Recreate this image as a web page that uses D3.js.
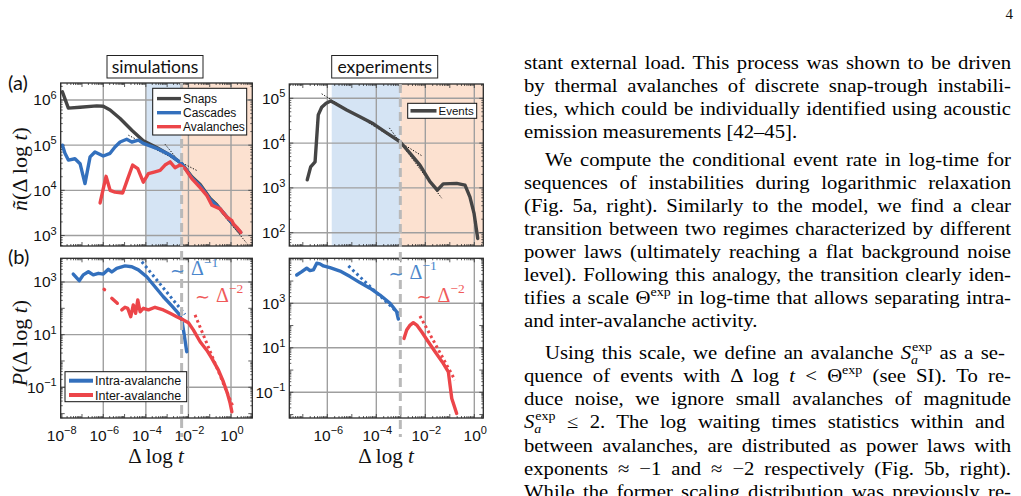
<!DOCTYPE html>
<html><head><meta charset="utf-8">
<script src="https://cdn.jsdelivr.net/npm/d3@7"></script>
<style>body{margin:0;background:#fff}svg{display:block}</style>
</head><body>
<svg id="c" width="1021" height="496"></svg>
<script>
// ---------- DATA (values stored as log10 exponents [log10 Δlogt, log10 value]) ----------
const simSnaps = [[-7.92,6.18],[-7.64,5.82],[-7.09,5.84],[-6.31,5.87],[-6.0,5.86],[-5.68,5.78],[-5.21,5.59],[-4.66,5.33],[-4.12,5.10],[-3.49,4.95],[-2.86,4.78],[-2.31,4.59],[-1.84,4.30],[-1.45,4.13],[-0.98,3.82],[-0.67,3.68],[0.0,3.30],[0.42,3.07]];
const simCascades = [[-7.92,5.0],[-7.80,4.82],[-7.64,4.67],[-7.33,4.70],[-7.09,4.59],[-6.86,4.15],[-6.62,4.74],[-6.39,4.85],[-6.0,4.76],[-5.68,4.82],[-5.45,4.96],[-5.21,5.07],[-4.90,5.13],[-4.66,5.07],[-4.35,5.11],[-4.12,5.04],[-3.49,4.93],[-2.86,4.78],[-2.31,4.59],[-1.84,4.28],[-1.45,4.10],[-0.98,3.80],[-0.51,3.59],[-0.04,3.33],[0.46,3.07]];
const simAvalanches = [[-6.15,3.72],[-5.87,4.31],[-5.68,4.0],[-5.45,3.96],[-5.09,3.94],[-4.85,4.26],[-4.62,4.56],[-4.38,4.48],[-4.12,4.18],[-3.88,4.37],[-3.57,4.41],[-3.33,4.44],[-3.10,4.56],[-2.86,4.63],[-2.63,4.50],[-2.40,4.56],[-2.16,4.48],[-1.84,4.26],[-1.45,4.06],[-1.14,3.89],[-0.90,3.67],[-0.51,3.59],[-0.20,3.41],[0.04,3.33],[0.12,3.25],[0.27,3.18],[0.46,3.07]];
const simFits = [[[-4.82,5.22],[-1.61,4.44]],[[-3.10,5.02],[0.74,2.83]]];
const simTheta = -2.32, simBlueStart = -4.0;

const expEvents = [[-6.82,3.18],[-6.68,3.47],[-6.50,3.58],[-6.37,4.63],[-6.23,4.80],[-6.05,4.89],[-5.86,4.94],[-5.69,4.89],[-5.21,4.74],[-4.67,4.59],[-4.12,4.43],[-3.58,4.23],[-3.03,4.03],[-2.62,3.77],[-2.22,3.51],[-1.81,3.14],[-1.51,2.95],[-1.27,3.09],[-0.72,3.10],[-0.38,3.06],[-0.18,2.80],[-0.01,2.43],[0.14,1.87]];
const expFits = [[[-6.23,5.10],[-2.15,3.72]],[[-3.47,4.34],[-1.33,2.77]]];
const expTheta = -3.02, expBlueStart = -5.82;

const simIntra = [[-7.41,3.30],[-7.13,3.05],[-6.94,3.27],[-6.70,3.39],[-6.47,3.27],[-6.23,3.33],[-6.0,3.30],[-5.76,3.48],[-5.60,3.38],[-5.37,3.52],[-4.98,3.61],[-4.66,3.58],[-4.35,3.46],[-3.96,3.20],[-3.57,2.82],[-3.18,2.44],[-2.78,2.09],[-2.47,1.81],[-2.31,1.56],[-2.21,1.05],[-2.08,0.35]];
const simInter = [[-5.96,2.72],[-5.94,2.71],null,[-5.60,2.38],[-5.34,2.19],null,[-5.13,1.94],[-4.98,2.04],[-4.85,2.0],[-4.71,1.68],[-4.59,2.13],[-4.48,1.81],[-4.38,2.32],[-4.27,1.87],[-4.12,2.0],[-3.88,1.94],[-3.57,2.04],[-3.18,1.94],[-2.86,1.81],[-2.55,1.68],[-2.24,1.56],[-2.0,1.45],[-1.77,1.18],[-1.45,0.73],[-1.14,0.41],[-0.90,0.10],[-0.59,-0.35],[-0.36,-0.79],[-0.17,-1.23],[-0.04,-1.61],[0.04,-1.93]];
const simIntraFit = [[-4.19,3.77],[-2.16,1.77]];
const simInterFit = [[-1.69,1.75],[0.08,-1.71]];

const expIntra = [[-7.25,4.27],[-7.04,4.42],[-6.84,4.58],[-6.71,4.47],[-6.57,4.50],[-6.43,4.80],[-6.30,4.77],[-6.16,4.68],[-5.89,4.60],[-5.48,4.45],[-5.07,4.20],[-4.67,3.93],[-4.26,3.68],[-3.85,3.37],[-3.44,3.0],[-3.17,2.62],[-3.10,2.29]];
const expInter = [[-2.87,1.42],[-2.76,1.80],[-2.62,2.02],[-2.49,2.13],[-2.35,2.02],[-2.15,1.72],[-1.88,1.27],[-1.60,0.82],[-1.27,0.30],[-1.06,-0.08],[-1.0,-0.60],[-0.92,-1.28],[-0.83,-1.58],[-0.72,-1.95]];
const expIntraFit = [[-5.14,4.68],[-3.10,2.55]];
const expInterFit = [[-2.22,2.43],[-0.79,-0.45]];

const legendSim = ["Snaps","Cascades","Avalanches"];
const legendExp = ["Events"];
const legendB = ["Intra-avalanche","Inter-avalanche"];
const xTicksSim = [-8,-6,-4,-2,0];
const xTicksExp = [-6,-4,-2,0];

const bodyLines = [
 {y:64, s:["stant external load. This process was shown to be driven"]},
 {y:87, s:["by thermal avalanches of discrete snap-trough instabili-"]},
 {y:110, s:["ties, which could be individually identified using acoustic"]},
 {y:133, s:["emission measurements [42–45]."], nj:1},
 {y:161, s:["We compute the conditional event rate in log-time for"], ind:1},
 {y:184, s:["sequences of instabilities during logarithmic relaxation"]},
 {y:207, s:["(Fig. 5a, right). Similarly to the model, we find a clear"]},
 {y:230, s:["transition between two regimes characterized by different"]},
 {y:253, s:["power laws (ultimately reaching a flat background noise"]},
 {y:276, s:["level). Following this analogy, the transition clearly iden-"]},
 {y:299, s:["tifies a scale Θ",{t:"exp",sup:1}," in log-time that allows separating intra-"]},
 {y:322, s:["and inter-avalanche activity."], nj:1},
 {y:354, s:["Using this scale, we define an avalanche ",{t:"S",i:1},{t:"a",sub:1,i:1},{t:"exp",sup:1,dx:-5.5}," as a se-"], ind:1},
 {y:377, s:["quence of events with Δ log ",{t:"t",i:1}," < Θ",{t:"exp",sup:1}," (see SI). To re-"]},
 {y:400, s:["duce noise, we ignore small avalanches of magnitude"]},
 {y:423, s:[{t:"S",i:1},{t:"a",sub:1,i:1},{t:"exp",sup:1,dx:-5.5}," ≤ 2. The log waiting times statistics within and"]},
 {y:447, s:["between avalanches, are distributed as power laws with"]},
 {y:470, s:["exponents ≈ −1 and ≈ −2 respectively (Fig. 5b, right)."]},
 {y:493, s:["While the former scaling distribution was previously re-"]}
];

// ---------- DRAW ----------
const svg = d3.select("#c");
const C = {gray:"#454545", blue:"#3370bd", red:"#ec4549", blueTxt:"#4a86cc", redTxt:"#f05a5a",
  shadeB:"#d5e4f4", shadeO:"#fce1d0", grid:"#9f9f9f", dash:"#b9b9b9"};
const SANS = "'Liberation Sans', Arial, sans-serif";
const SERIF = "'Liberation Serif', 'Times New Roman', serif";
const CAL = "Lato, 'Open Sans', sans-serif";

function rich(t, segs, supSize, subSize){
  let shift = 0;
  segs.forEach(s=>{
    if (typeof s === "string") s = {t:s};
    const target = s.sup ? -0.42*t.attr("data-fs") : s.sub ? 0.28*t.attr("data-fs") : 0;
    const ts = t.append("tspan").text(s.t).attr("dy", (target-shift).toFixed(2));
    shift = target;
    if (s.sup) ts.attr("font-size", supSize);
    if (s.sub) ts.attr("font-size", subSize);
    if (s.i) ts.attr("font-style","italic");
    if (s.dx) ts.attr("dx", s.dx);
  });
}
function sText(g, x, y, fs, fam, anchor){
  return g.append("text").attr("x",x).attr("y",y).attr("font-size",fs).attr("data-fs",fs)
    .attr("font-family",fam).attr("text-anchor",anchor||"start").attr("fill","#111");
}

let clipN = 0;
function panel(p){
  const g = svg.append("g");
  const x = d3.scaleLog().domain([10**p.xd[0],10**p.xd[1]]).range([p.l,p.r]);
  const y = d3.scaleLog().domain([10**p.yd[0],10**p.yd[1]]).range([p.b,p.t]);
  const id = "clip"+(clipN++);
  svg.append("clipPath").attr("id",id).append("rect").attr("x",p.l).attr("y",p.t).attr("width",p.r-p.l).attr("height",p.b-p.t);
  if (p.shade){
    g.append("rect").attr("x",x(10**p.shade[0])).attr("y",p.t).attr("width",x(10**p.shade[1])-x(10**p.shade[0])).attr("height",p.b-p.t).attr("fill",C.shadeB);
    g.append("rect").attr("x",x(10**p.shade[1])).attr("y",p.t).attr("width",p.r-x(10**p.shade[1])).attr("height",p.b-p.t).attr("fill",C.shadeO);
  }
  p.gx.forEach(e=>g.append("line").attr("x1",x(10**e)).attr("x2",x(10**e)).attr("y1",p.t).attr("y2",p.b).attr("stroke",C.grid).attr("stroke-width",1.4));
  p.gy.forEach(e=>g.append("line").attr("y1",y(10**e)).attr("y2",y(10**e)).attr("x1",p.l).attr("x2",p.r).attr("stroke",C.grid).attr("stroke-width",1.4));
  const tk = g.append("g").attr("stroke","#333").attr("stroke-width",0.8);
  for (let e=Math.floor(p.xd[0]); e<=Math.ceil(p.xd[1]); e++){
    for (let m=1;m<10;m++){
      const v = m*10**e; if (v<10**p.xd[0]||v>10**p.xd[1]) continue;
      const L = m===1?4:2;
      tk.append("line").attr("x1",x(v)).attr("x2",x(v)).attr("y1",p.b).attr("y2",p.b-L);
      tk.append("line").attr("x1",x(v)).attr("x2",x(v)).attr("y1",p.t).attr("y2",p.t+L);
    }
  }
  for (let e=Math.floor(p.yd[0]); e<=Math.ceil(p.yd[1]); e++){
    for (let m=1;m<10;m++){
      const v = m*10**e; if (v<10**p.yd[0]||v>10**p.yd[1]) continue;
      const L = m===1?4:2;
      tk.append("line").attr("y1",y(v)).attr("y2",y(v)).attr("x1",p.l).attr("x2",p.l+L);
      tk.append("line").attr("y1",y(v)).attr("y2",y(v)).attr("x1",p.r).attr("x2",p.r-L);
    }
  }
  const line = d3.line().defined(d=>d!==null).x(d=>x(10**d[0])).y(d=>y(10**d[1]));
  const cg = g.append("g").attr("clip-path",`url(#${id})`);
  (p.fits||[]).forEach(f=>cg.append("path").attr("d",line(f.d)).attr("fill","none").attr("stroke",f.c)
      .attr("stroke-width",f.w).attr("stroke-dasharray",f.da));
  p.series.forEach(s=>cg.append("path").attr("d",line(s.d)).attr("fill","none").attr("stroke",s.c)
      .attr("stroke-width",3.4).attr("stroke-linejoin","round").attr("stroke-linecap","round"));
  g.append("rect").attr("x",p.l).attr("y",p.t).attr("width",p.r-p.l).attr("height",p.b-p.t)
    .attr("fill","none").attr("stroke","#2a2a2a").attr("stroke-width",1.3);
  p.yl.forEach(e=>{
    const t = sText(g, p.l-4, y(10**e)+5.5, 15.5, SANS, "end");
    rich(t, ["10",{t:String(e).replace("-","−"),sup:1}], 11);
  });
  if (p.xl) p.xl.forEach(e=>{
    const t = sText(g, x(10**e)+1, 441, 15.5, SANS, "middle");
    rich(t, ["10",{t:String(e).replace("-","−"),sup:1}], 11);
  });
  return {x,y,g};
}

const A1 = panel({l:60.7,r:252.3,t:83,b:246, xd:[-8,1], yd:[2.768,6.376], shade:[simBlueStart,simTheta],
  gx:[-6,-4,-2,0], gy:[3,4,5,6], yl:[3,4,5,6],
  fits: simFits.map(d=>({d, c:"#111", w:1, da:"1.3,1.6"})),
  series:[{d:simSnaps,c:C.gray},{d:simCascades,c:C.blue},{d:simAvalanches,c:C.red}]});
const A2 = panel({l:289.3,r:483.3,t:84,b:246, xd:[-7.552,0.367], yd:[1.703,5.319], shade:[expBlueStart,expTheta],
  gx:[-6,-4,-2,0], gy:[2,3,4,5], yl:[2,3,4,5],
  fits: expFits.map(d=>({d, c:"#111", w:1, da:"1.3,1.6"})),
  series:[{d:expEvents,c:C.gray}]});
const B1 = panel({l:60.7,r:252.3,t:258.3,b:418, xd:[-8,1], yd:[-2.166,3.9],
  gx:[-6,-4,-2,0], gy:[-1,1,3], yl:[-1,1,3], xl:xTicksSim,
  fits:[{d:simIntraFit,c:C.blue,w:3,da:"2.6,3"},{d:simInterFit,c:C.red,w:3,da:"2.6,3"}],
  series:[{d:simIntra,c:C.blue},{d:simInter,c:C.red}]});
const B2 = panel({l:289.3,r:483.3,t:258.3,b:418, xd:[-7.552,0.367], yd:[-2.155,5.022],
  gx:[-6,-4,-2,0], gy:[-1,1,3], yl:[-1,1,3], xl:xTicksExp,
  fits:[{d:expIntraFit,c:C.blue,w:3,da:"2.6,3"},{d:expInterFit,c:C.red,w:3,da:"2.6,3"}],
  series:[{d:expIntra,c:C.blue},{d:expInter,c:C.red}]});

[[A1,simTheta,83,437],[A2,expTheta,84,437]].forEach(([P,th,y1,y2])=>{
  svg.append("line").attr("x1",P.x(10**th)).attr("x2",P.x(10**th)).attr("y1",y1).attr("y2",y2)
    .attr("stroke",C.dash).attr("stroke-width",3).attr("stroke-dasharray","9,5");
});

function legend(x0,y0,w,h,items,cols,fs,lx1,lx2,ys,lw){
  const g = svg.append("g");
  g.append("rect").attr("x",x0).attr("y",y0).attr("width",w).attr("height",h).attr("fill","#fff").attr("stroke","#111").attr("stroke-width",1);
  items.forEach((it,i)=>{
    g.append("line").attr("x1",lx1).attr("x2",lx2).attr("y1",ys[i]).attr("y2",ys[i]).attr("stroke",cols[i]).attr("stroke-width",lw);
    sText(g, lx2+2, ys[i]+fs*0.36, fs, SANS).text(it);
  });
}
legend(152.7,88.3,94,46.7,legendSim,[C.gray,C.blue,C.red],12,157,181,[98.6,112.7,126.7],3.4);
legend(407.7,103.3,69,15,legendExp,[C.gray],11.5,410.5,436.5,[110.8],3.6);
legend(65,371.7,121.7,30,legendB,[C.blue,C.red],12.5,69,93,[380.7,395],4);

// annotations  ∼ Δ^{-k}
[[170,275,C.blueTxt,"−1"],[195,301.5,C.redTxt,"−2"],[388.5,278.5,C.blueTxt,"−1"],[416.5,301.5,C.redTxt,"−2"]].forEach(([x,y,c,e])=>{
  svg.append("text").attr("x",x).attr("y",y+1.5).attr("font-family","'DejaVu Sans', sans-serif")
    .attr("font-size",18).attr("fill",c).text("∼");
  const t = sText(svg, x+21, y, 20, SERIF).attr("fill",c);
  rich(t, ["Δ",{t:e,sup:1}], 13.5);
});

[["simulations",107,203],["experiments",331.7,437.7]].forEach(([s,a,b])=>{
  svg.append("rect").attr("x",a).attr("y",55.5).attr("width",b-a).attr("height",22.5).attr("fill","#fff").attr("stroke","#222").attr("stroke-width",1);
  sText(svg,(a+b)/2,72.5,17.5,CAL,"middle").text(s);
});
sText(svg,8,90,20,CAL).text("(a)");
sText(svg,8,264,20,CAL).text("(b)");

[156,386].forEach(cx=>{
  const t = sText(svg,cx,463,21,SERIF,"middle");
  rich(t,["Δ log ",{t:"t",i:1}]);
});
{
  const t = sText(svg,0,0,22,SERIF,"middle").attr("transform","translate(27,169) rotate(-90)");
  rich(t,[{t:"ñ",i:1},"(Δ log ",{t:"t",i:1},")"]);
  const t2 = sText(svg,0,0,22,SERIF,"middle").attr("transform","translate(27,343) rotate(-90)");
  rich(t2,[{t:"P",i:1},"(Δ log ",{t:"t",i:1},")"]);
}

sText(svg,1013,19,15,SERIF,"end").text("4");

// body text: horizontally widened serif (CM-like proportions), justified with word spacing
const L0 = 524, R0 = 1011, SX = 1.12;
bodyLines.forEach(l=>{
  const x0 = l.ind ? L0+21 : L0;
  const g = svg.append("g").attr("transform",`translate(${x0},${l.y+5}) scale(${SX},1)`);
  const t = sText(g,0,0,18.5,SERIF).attr("fill","#000");
  rich(t, l.s, 12.5, 12.5);
  if (!l.nj){
    const nat = t.node().getComputedTextLength();
    const full = l.s.map(s=>typeof s==="string"?s:s.t).join("");
    const nsp = (full.match(/ /g)||[]).length;
    if (nsp>0) t.attr("word-spacing", (((R0-x0)/SX-nat)/nsp).toFixed(3));
  }
});
</script>
</body></html>
